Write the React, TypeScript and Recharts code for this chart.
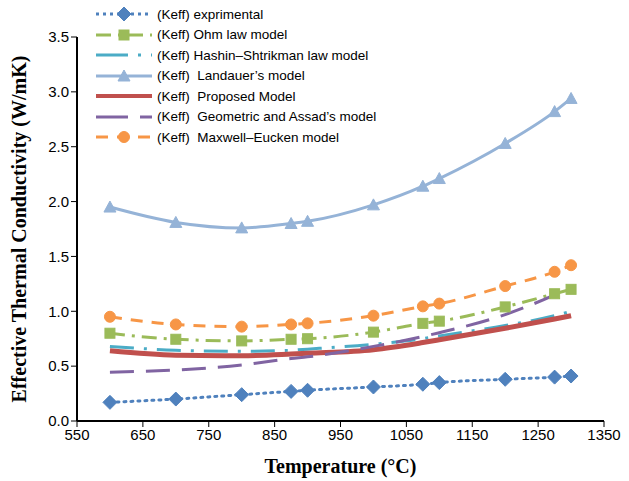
import React from "react";
import { LineChart, Line, XAxis, YAxis } from "recharts";

const temps = [600, 700, 800, 875, 900, 1000, 1075, 1100, 1200, 1275, 1300];
const experimental = [0.17, 0.2, 0.24, 0.27, 0.28, 0.31, 0.335, 0.35, 0.38, 0.4, 0.41];
const ohm = [0.8, 0.745, 0.73, 0.745, 0.75, 0.81, 0.89, 0.91, 1.04, 1.16, 1.2];
const hashin = [0.68, 0.645, 0.635, 0.645, 0.655, 0.7, 0.75, 0.775, 0.87, 0.96, 1.0];
const landauer = [1.95, 1.81, 1.76, 1.8, 1.82, 1.97, 2.14, 2.21, 2.53, 2.82, 2.94];
const proposed = [0.64, 0.6, 0.595, 0.61, 0.617, 0.65, 0.715, 0.74, 0.845, 0.93, 0.96];
const geometric = [0.445, 0.465, 0.51, 0.57, 0.585, 0.68, 0.77, 0.805, 0.97, 1.15, 1.22];
const maxwell = [0.95, 0.88, 0.86, 0.88, 0.89, 0.96, 1.045, 1.07, 1.23, 1.36, 1.42];

const xTicks = [550, 650, 750, 850, 950, 1050, 1150, 1250, 1350];
const yTicks = [0, 0.5, 1, 1.5, 2, 2.5, 3, 3.5];

const data = temps.map((t, i) => ({
  t,
  experimental: experimental[i],
  ohm: ohm[i],
  hashin: hashin[i],
  landauer: landauer[i],
  proposed: proposed[i],
  geometric: geometric[i],
  maxwell: maxwell[i],
}));

const C = {
  exp: "#4F81BD",
  ohm: "#9BBB59",
  hashin: "#4BACC6",
  land: "#95B3D7",
  prop: "#C0504D",
  geo: "#8064A2",
  max: "#F79646",
};

const diamond = (cx: number, cy: number, key?: any) => (
  <polygon key={key} points={`${cx},${cy - 7} ${cx + 7},${cy} ${cx},${cy + 7} ${cx - 7},${cy}`} fill={C.exp} stroke={C.exp} strokeWidth={1} />
);
const square = (cx: number, cy: number, key?: any) => (
  <rect key={key} x={cx - 5} y={cy - 5} width={10} height={10} fill={C.ohm} stroke={C.ohm} strokeWidth={1} />
);
const triangle = (cx: number, cy: number, key?: any) => (
  <polygon key={key} points={`${cx},${cy - 6} ${cx + 6},${cy + 5} ${cx - 6},${cy + 5}`} fill={C.land} stroke={C.land} strokeWidth={1} />
);
const circle = (cx: number, cy: number, key?: any) => (
  <circle key={key} cx={cx} cy={cy} r={5.5} fill={C.max} stroke={C.max} strokeWidth={1} />
);

const mk = (fn: any) => (p: any) => fn(p.cx, p.cy, `d${p.index}`);

const legendItems = [
  { label: "(Keff) exprimental", color: C.exp, dash: "3 4", width: 3, marker: diamond },
  { label: "(Keff) Ohm law model", color: C.ohm, dash: "15 7 3 7", width: 3, marker: square },
  { label: "(Keff) Hashin\u2013Shtrikman law model", color: C.hashin, dash: "32 10 3 10", width: 3, marker: null },
  { label: "(Keff)  Landauer\u2019s model", color: C.land, dash: undefined, width: 3, marker: triangle },
  { label: "(Keff)  Proposed Model", color: C.prop, dash: undefined, width: 4, marker: null },
  { label: "(Keff)  Geometric and Assad\u2019s model", color: C.geo, dash: "32 12", width: 3, marker: null },
  { label: "(Keff)  Maxwell\u2013Eucken model", color: C.max, dash: "12 9", width: 3, marker: circle },
];

export default function App() {
  const tickStyle = { fontFamily: "'Liberation Sans', Arial, sans-serif", fontSize: 15, fill: "#000" };
  return (
    <div style={{ position: "absolute", left: 0, top: 0, width: 629, height: 481, background: "#fff" }}>
      <LineChart width={629} height={481} data={data} margin={{ top: 37, right: 25, bottom: 0, left: 0 }}>
        <XAxis
          dataKey="t"
          type="number"
          domain={[550, 1350]}
          ticks={xTicks}
          interval={0}
          stroke="#000"
          strokeWidth={2}
          tick={tickStyle}
          tickLine={{ stroke: "#000", strokeWidth: 1 }}
          tickSize={6}
          height={60}
          label={{
            value: "Temperature (\u00B0C)",
            position: "insideBottom",
            offset: 8,
            style: { fontFamily: "'Liberation Serif', 'Times New Roman', serif", fontWeight: "bold", fontSize: 20, fill: "#000" },
          }}
        />
        <YAxis
          type="number"
          domain={[0, 3.5]}
          ticks={yTicks}
          interval={0}
          width={77}
          stroke="#000"
          strokeWidth={2}
          tick={tickStyle}
          tickLine={{ stroke: "#000", strokeWidth: 1 }}
          tickSize={6}
          tickFormatter={(v: number) => v.toFixed(1)}
        />
        <Line dataKey="landauer" type="monotone" stroke={C.land} strokeWidth={3} dot={mk(triangle)} isAnimationActive={false} />
        <Line dataKey="maxwell" type="monotone" stroke={C.max} strokeWidth={3} strokeDasharray="12 9" dot={mk(circle)} isAnimationActive={false} />
        <Line dataKey="ohm" type="monotone" stroke={C.ohm} strokeWidth={3} strokeDasharray="15 7 3 7" dot={mk(square)} isAnimationActive={false} />
        <Line dataKey="hashin" type="monotone" stroke={C.hashin} strokeWidth={3} strokeDasharray="24 10 3 10" dot={false} isAnimationActive={false} />
        <Line dataKey="proposed" type="monotone" stroke={C.prop} strokeWidth={5} dot={false} isAnimationActive={false} />
        <Line dataKey="geometric" type="monotone" stroke={C.geo} strokeWidth={3} strokeDasharray="24 12" dot={false} isAnimationActive={false} />
        <Line dataKey="experimental" type="monotone" stroke={C.exp} strokeWidth={3} strokeDasharray="2 5" strokeLinecap="round" dot={mk(diamond)} isAnimationActive={false} />
      </LineChart>
      <svg width={40} height={481} style={{ position: "absolute", left: 0, top: 0, pointerEvents: "none" }}>
        <text
          x={19}
          y={229}
          transform="rotate(-90 19 229)"
          textAnchor="middle"
          dominantBaseline="central"
          fontFamily="'Liberation Serif', 'Times New Roman', serif"
          fontWeight="bold"
          fontSize={20}
          fill="#000"
        >
          Effective Thermal Conductivity (W/mK)
        </text>
      </svg>
      <div style={{ position: "absolute", left: 92, top: 4, fontFamily: "'Liberation Sans', Arial, sans-serif", fontSize: 13.5, color: "#000" }}>
        {legendItems.map((it, i) => (
          <div key={i} style={{ display: "flex", alignItems: "center", height: 20.5 }}>
            <svg width={64} height={20} style={{ display: "block" }}>
              <line x1={4} y1={10} x2={60} y2={10} stroke={it.color} strokeWidth={it.width} strokeDasharray={it.dash} />
              {it.marker ? it.marker(32, 10) : null}
            </svg>
            <span style={{ whiteSpace: "pre", marginLeft: 1 }}>{it.label}</span>
          </div>
        ))}
      </div>
    </div>
  );
}
